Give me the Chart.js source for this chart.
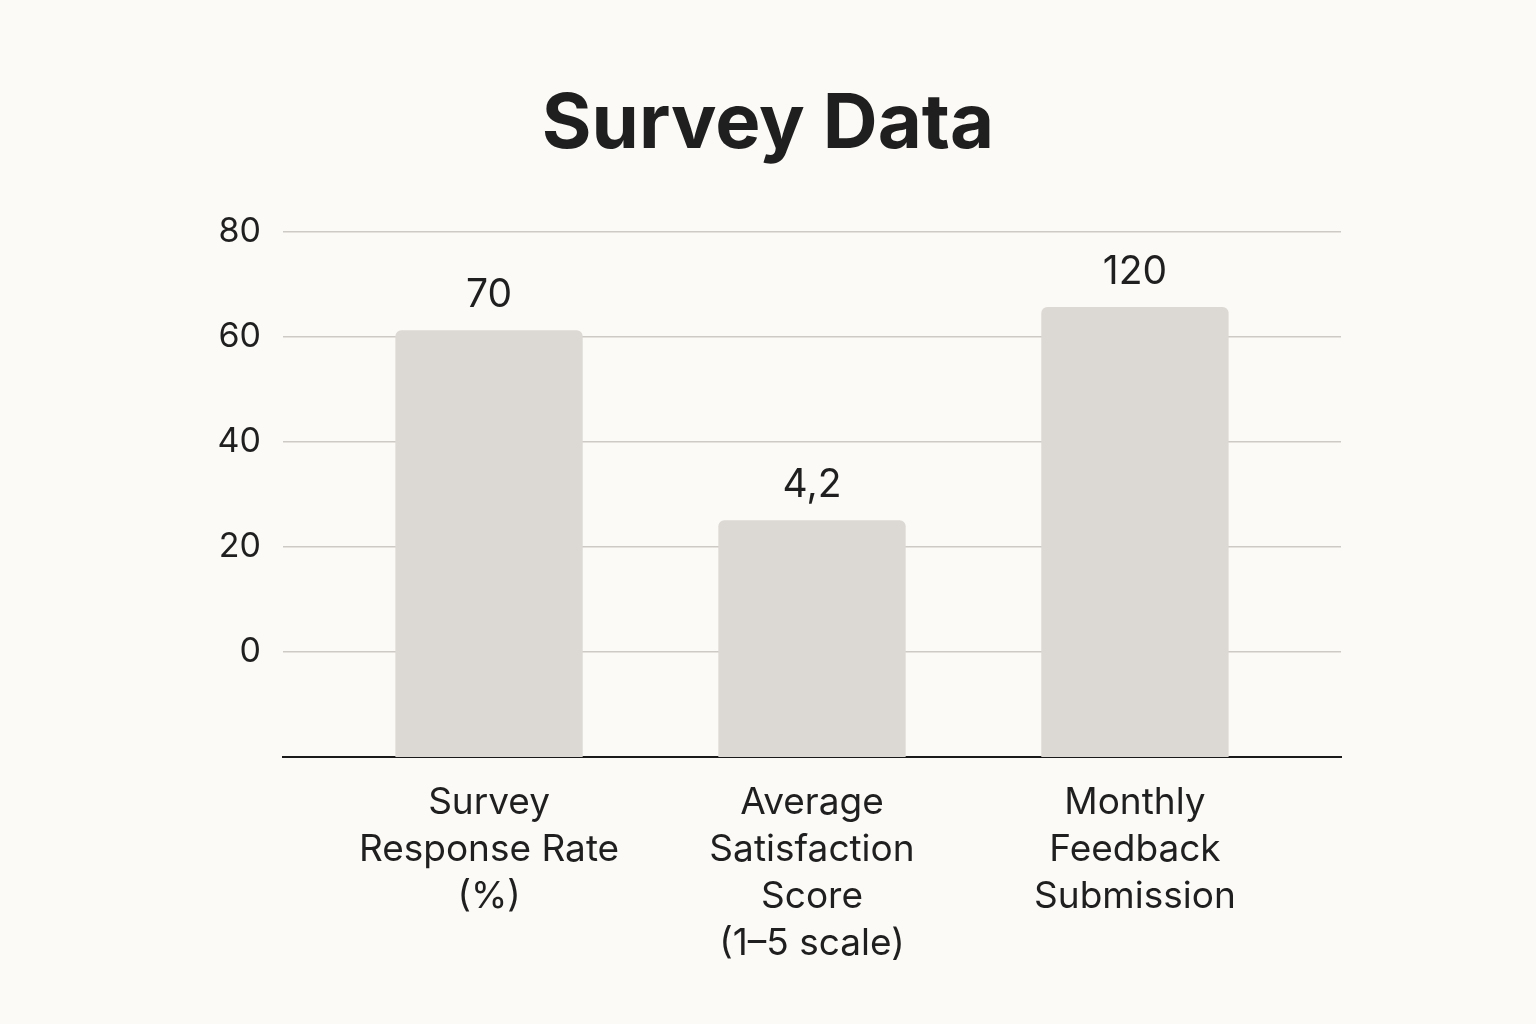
<!DOCTYPE html>
<html>
<head>
<meta charset="utf-8">
<script src="https://cdn.jsdelivr.net/npm/chart.js@4.4.1/dist/chart.umd.min.js"></script>
<style>
  html, body { margin: 0; padding: 0; background: #fcfaf7; }
  #wrap { width: 1536px; height: 1024px; }
</style>
</head>
<body>
<div id="wrap"><canvas id="myChart"></canvas></div>
<script>
const chartTitle = 'Survey Data';
const categories = [
  ['Survey', 'Response Rate', '(%)'],
  ['Average', 'Satisfaction', 'Score', '(1\u20135 scale)'],
  ['Monthly', 'Feedback', 'Submission']
];
// bar heights as drawn on the axis
const barValues = [61.3, 25.1, 65.7];
// numbers printed above the bars
const valueLabels = ['70', '4,2', '120'];
const yTicks = [0, 20, 40, 60, 80];
const axisFloor = -20;

const FONT = "Inter, 'Noto Sans', sans-serif";
const ink = '#1f1f1f';

// title centred on the whole canvas, not the plot area
const pageTitle = {
  id: 'pageTitle',
  afterDraw(chart) {
    const ctx = chart.ctx;
    ctx.save();
    ctx.font = '700 76px ' + FONT;
    ctx.fillStyle = ink;
    ctx.textAlign = 'center';
    ctx.textBaseline = 'alphabetic';
    ctx.fillText(chartTitle, chart.width / 2, 148);
    ctx.restore();
  }
};

const barLabels = {
  id: 'barLabels',
  afterDatasetsDraw(chart) {
    const ctx = chart.ctx;
    const meta = chart.getDatasetMeta(0);
    ctx.save();
    ctx.font = '400 39px ' + FONT;
    ctx.fillStyle = ink;
    ctx.textAlign = 'center';
    ctx.textBaseline = 'alphabetic';
    meta.data.forEach((bar, i) => {
      ctx.fillText(valueLabels[i], bar.x, bar.y - 23);
    });
    ctx.restore();
  }
};

const data = {
  datasets: [{
    data: barValues.map((v, i) => ({ x: i, y: [axisFloor, v] })),
    backgroundColor: '#dcd8d3',
    borderRadius: { topLeft: 6, topRight: 6, bottomLeft: 0, bottomRight: 0 },
    borderSkipped: false,
    categoryPercentage: 1,
    barPercentage: 0.58
  }]
};

const config = {
  type: 'bar',
  data: data,
  plugins: [pageTitle, barLabels],
  options: {
    responsive: true,
    maintainAspectRatio: false,
    animation: false,
    layout: { padding: { left: 0, right: 195, top: 232, bottom: 0 } },
    plugins: {
      legend: { display: false },
      tooltip: { enabled: false },
      title: { display: false }
    },
    scales: {
      x: {
        type: 'linear',
        min: -0.638,
        max: 2.638,
        offset: false,
        afterBuildTicks: (s) => { s.ticks = categories.map((c, i) => ({ value: i })); },
        afterFit: (s) => { s.height = 267; },
        grid: { display: false, drawTicks: false },
        border: { display: true, color: '#1a1a1a', width: 2 },
        ticks: {
          color: ink,
          padding: 22,
          maxRotation: 0,
          autoSkip: false,
          font: { family: FONT, size: 37, lineHeight: 47 / 37 },
          callback: (v) => categories[v]
        }
      },
      y: {
        min: axisFloor,
        max: 80,
        afterBuildTicks: (s) => { s.ticks = yTicks.map(v => ({ value: v })); },
        afterFit: (s) => { s.width = 283; },
        grid: { color: '#cdcac5', lineWidth: 1.5, drawTicks: false },
        border: { display: false },
        ticks: {
          color: ink,
          padding: 22,
          font: { family: FONT, size: 34 }
        }
      }
    }
  }
};

const myChart = new Chart(document.getElementById('myChart'), config);
</script>
</body>
</html>
